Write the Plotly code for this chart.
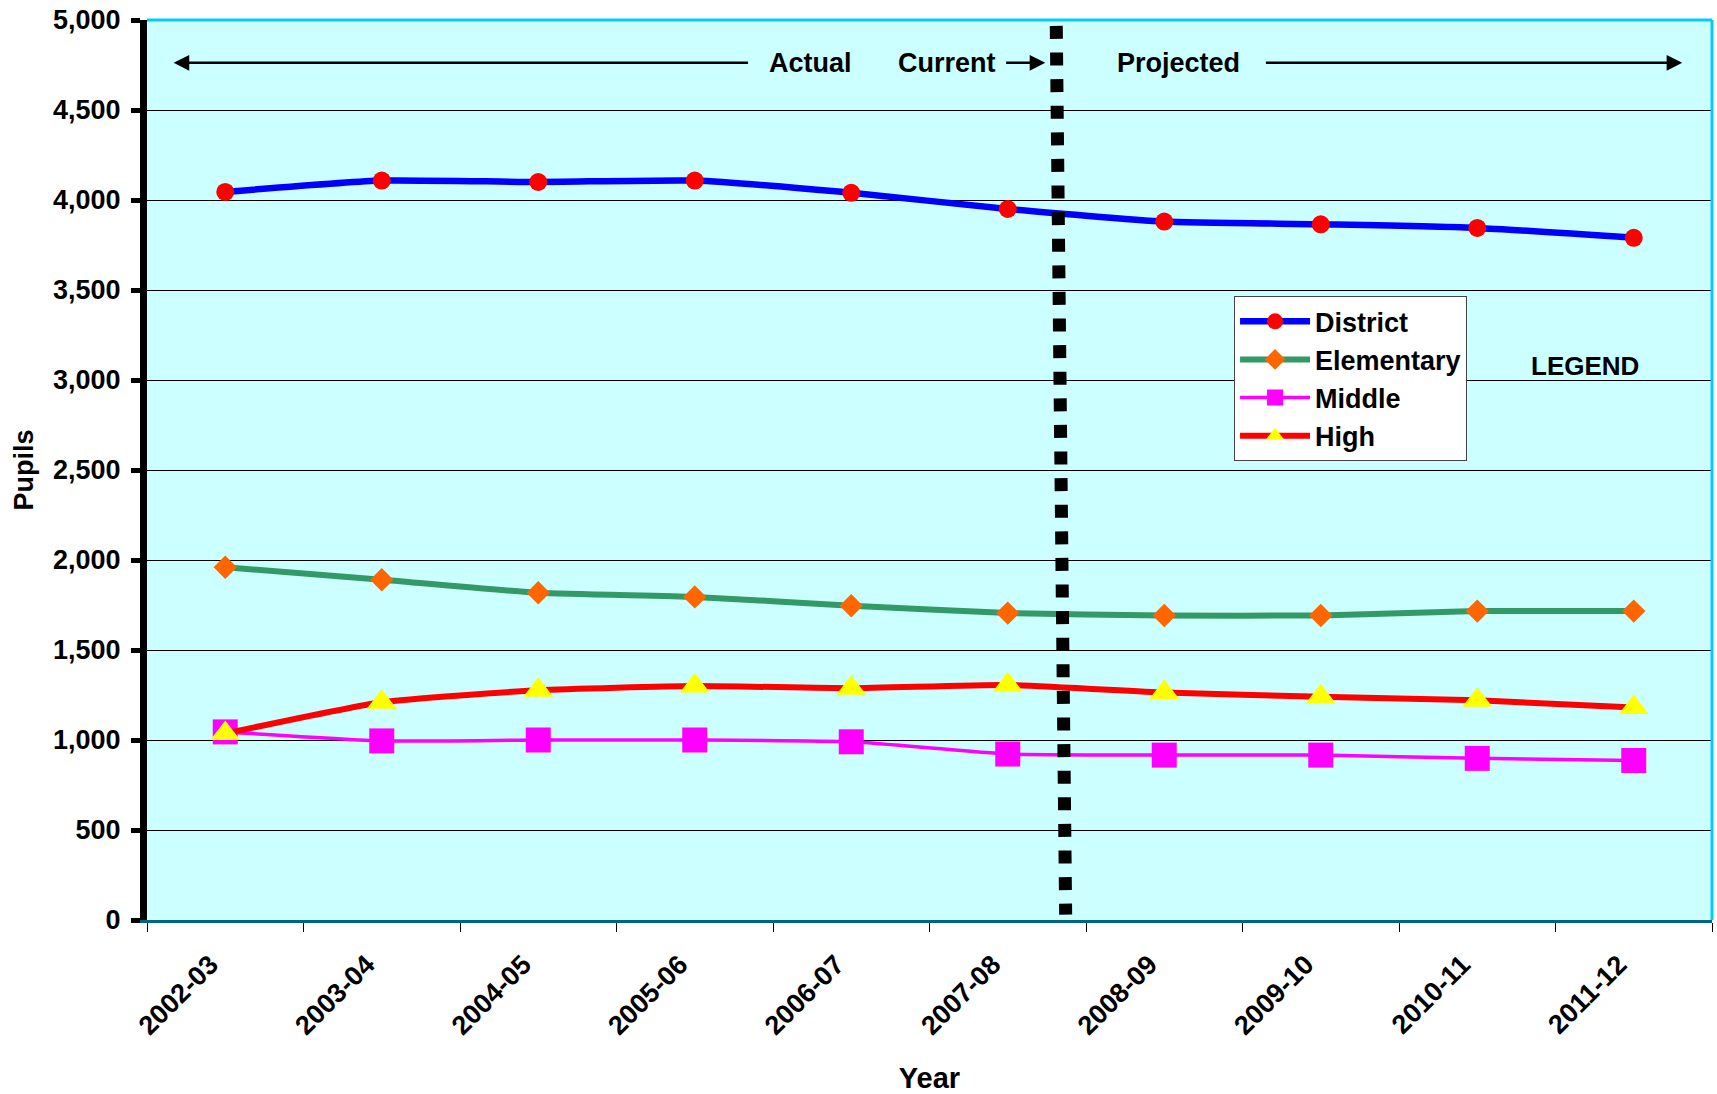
import plotly.graph_objects as go

years = ["2002-03", "2003-04", "2004-05", "2005-06", "2006-07",
         "2007-08", "2008-09", "2009-10", "2010-11", "2011-12"]
district = [4045, 4108, 4100, 4108, 4040, 3950, 3880, 3865, 3845, 3790]
elementary = [1960, 1890, 1818, 1795, 1746, 1705, 1692, 1692, 1716, 1716]
middle = [1045, 995, 1000, 1000, 990, 922, 916, 916, 898, 886]
high = [1036, 1210, 1276, 1300, 1288, 1306, 1264, 1240, 1221, 1180]

FONT = "Liberation Sans, Arial, sans-serif"

fig = go.Figure()
fig.add_trace(go.Scatter(x=years, y=district, name="District", mode="lines+markers",
                         line=dict(color="#0000FF", width=6.5, shape="spline", smoothing=0.5),
                         marker=dict(symbol="circle", size=18, color="#FF0000")))
fig.add_trace(go.Scatter(x=years, y=elementary, name="Elementary", mode="lines+markers",
                         line=dict(color="#339966", width=6, shape="spline", smoothing=0.5),
                         marker=dict(symbol="diamond", size=18, color="#FF6600")))
fig.add_trace(go.Scatter(x=years, y=middle, name="Middle", mode="lines+markers",
                         line=dict(color="#FF00FF", width=3.5, shape="spline", smoothing=0.5),
                         marker=dict(symbol="square", size=25, color="#FF00FF")))
fig.add_trace(go.Scatter(x=years, y=high, name="High", mode="lines+markers",
                         line=dict(color="#FF0000", width=6, shape="spline", smoothing=0.5),
                         marker=dict(symbol="triangle-up", size=26, color="#FFFF00")))

arrow_y = 4762
text_font = dict(family=FONT, size=27, color="black", weight="bold")
arrow_style = dict(text="", showarrow=True, arrowhead=2, arrowsize=1.25, arrowwidth=2.5,
                   arrowcolor="black", xref="x", yref="y", axref="x", ayref="y")
annotations = [
    dict(x=-0.33, y=arrow_y, ax=3.35, ay=arrow_y, **arrow_style),
    dict(x=5.24, y=arrow_y, ax=4.98, ay=arrow_y, **arrow_style),
    dict(x=9.31, y=arrow_y, ax=6.64, ay=arrow_y, **arrow_style),
    dict(x=3.74, y=arrow_y, xref="x", yref="y", text="Actual", showarrow=False, font=text_font),
    dict(x=4.61, y=arrow_y, xref="x", yref="y", text="Current", showarrow=False, font=text_font),
    dict(x=6.09, y=arrow_y, xref="x", yref="y", text="Projected", showarrow=False, font=text_font),
    dict(x=8.69, y=3079, xref="x", yref="y", text="LEGEND", showarrow=False,
         font=dict(family=FONT, size=26, color="black", weight="bold")),
]

shapes = [
    # dotted "current" divider
    dict(type="line", xref="x", yref="y", x0=5.31, y0=4967, x1=5.37, y1=30,
         line=dict(color="black", width=13, dash="13px,13.6px")),
    # cyan top and right borders
    dict(type="line", xref="paper", yref="paper", x0=0, y0=1, x1=1, y1=1,
         line=dict(color="#00CCFF", width=3)),
    dict(type="line", xref="paper", yref="paper", x0=1, y0=0, x1=1, y1=1,
         line=dict(color="#00CCFF", width=3)),
]

fig.update_layout(
    width=1717, height=1094,
    margin=dict(l=147, r=5, t=20, b=171),
    paper_bgcolor="white",
    plot_bgcolor="#CCFFFF",
    font=dict(family=FONT, size=27, color="black", weight="bold"),
    showlegend=True,
    legend=dict(x=0.6946, y=0.693, xanchor="left", yanchor="top",
                bgcolor="white", bordercolor="#444444", borderwidth=1,
                font=dict(family=FONT, size=27, color="black", weight="bold"),
                itemsizing="trace", itemwidth=70),
    annotations=annotations,
    shapes=shapes,
    xaxis=dict(type="category", categoryorder="array", categoryarray=years,
               range=[-0.5, 9.5], tickson="boundaries", ticks="outside", ticklen=9,
               tickwidth=1, tickcolor="black", showline=True, linecolor="#006680",
               linewidth=3, showgrid=False, tickangle=-45,
               ticklabelshift=-15, ticklabelstandoff=15,
               tickfont=dict(family=FONT, size=27, color="black", weight="bold"),
               title=dict(text="Year", font=dict(family=FONT, size=29, color="black", weight="bold"),
                          standoff=28)),
    yaxis=dict(range=[0, 5000], tickmode="array", tickvals=list(range(0, 5001, 500)),
               tickformat=",", showgrid=True, gridcolor="black", gridwidth=1,
               showline=True, linecolor="black", linewidth=7, ticks="outside",
               ticklen=9, tickwidth=5, tickcolor="black", zeroline=False,
               ticklabelstandoff=5,
               tickfont=dict(family=FONT, size=27, color="black", weight="bold"),
               title=dict(text="Pupils", font=dict(family=FONT, size=27, color="black", weight="bold"),
                          standoff=14)),
)

fig.write_html("out.html", config={"displayModeBar": False},
               post_script="document.body.style.margin='0px';")
